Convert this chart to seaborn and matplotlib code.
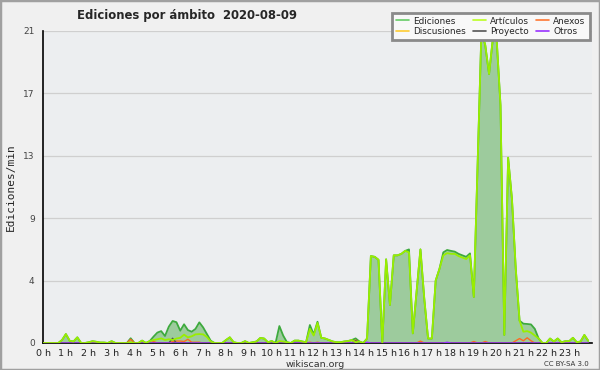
import numpy as np
import pandas as pd
import matplotlib
matplotlib.use("Agg")
import matplotlib.pyplot as plt
import seaborn as sns
from matplotlib.patches import Rectangle
from matplotlib.lines import Line2D

# ---- data: edits per minute, 10-minute bins (144 per day) ----
ediciones = [
    0, 0, 0, 0, 0, 0.2, 0.6, 0.15, 0.1, 0.38, 0, 0,
    0.05, 0.12, 0.08, 0.03, 0.03, 0, 0.12, 0, 0, 0, 0, 0.32,
    0, 0, 0.16, 0, 0.13, 0.43, 0.7, 0.8, 0.47, 1.1, 1.48, 1.4,
    0.83, 1.26, 0.87, 0.76, 0.95, 1.39, 1.05, 0.6, 0.15, 0, 0, 0,
    0.2, 0.38, 0.05, 0, 0, 0.12, 0, 0.05, 0.1, 0.34, 0.3, 0.05,
    0.13, 0, 1.14, 0.5, 0.05, 0, 0.16, 0.16, 0.1, 0.05, 1.21, 0.58,
    1.43, 0.35, 0.3, 0.2, 0.1, 0.05, 0.05, 0.1, 0.13, 0.2, 0.31, 0.1,
    0, 0.3, 5.85, 5.8, 5.6, 0, 5.63, 2.56, 5.9, 5.9, 6.0, 6.2,
    6.3, 0.65, 3.5, 6.3, 3.0, 0.3, 0.3, 4.2, 5.0, 6.1, 6.26, 6.2,
    6.15, 6.0, 5.9, 5.8, 6.03, 3.1, 12.0, 21.0, 20.05, 18.1, 20.5, 20.4,
    16.0, 0.54, 12.47, 9.7, 5.0, 1.5, 1.3, 1.28, 1.25, 0.95, 0.3, 0,
    0, 0.3, 0.1, 0.3, 0.05, 0.12, 0.12, 0.35, 0.05, 0.1, 0.54, 0.15,
]

articulos = list(ediciones)
for i, v in {23: 0.05, 29: 0.2, 30: 0.25, 31: 0.31, 32: 0.2, 33: 0.25, 34: 0.2,
             35: 0.3, 36: 0.35, 37: 0.56, 38: 0.38, 39: 0.45, 40: 0.58, 41: 0.6,
             42: 0.58, 43: 0.4, 44: 0.1, 62: 0.13, 63: 0.1, 70: 0.95, 71: 0.5,
             72: 1.35, 82: 0.05, 96: 6.1, 105: 5.9, 106: 6.05, 107: 6.0, 108: 6.0,
             109: 5.85, 110: 5.75, 111: 5.65, 112: 5.9, 126: 0.76, 127: 0.8,
             128: 0.7, 129: 0.5}.items():
    articulos[i] = v

anexos = [0.0] * 144
for i, v in {23: 0.25, 29: 0.1, 34: 0.1, 35: 0.13, 36: 0.13, 37: 0.1, 38: 0.25,
             39: 0.05, 40: 0.05, 41: 0.05, 70: 0.05, 72: 0.05, 82: 0.2, 99: 0.13,
             113: 0.1, 116: 0.1, 124: 0.15, 125: 0.3, 126: 0.15, 127: 0.35,
             128: 0.15}.items():
    anexos[i] = v

discusiones = [0.0] * 144
proyecto = [0.0] * 144
proyecto[34] = 0.32
proyecto[82] = 0.15
otros = [0.0] * 144
otros[85] = 0.05
otros[106] = 0.05

hours = [i / 6 for i in range(144)]
ytick_pos = [0, 4.2, 8.4, 12.6, 16.8, 21]
ytick_labels = ["0", "4", "9", "13", "17", "21"]
xtick_labels = [f"{h} h" for h in range(24)]

series_names = ["Ediciones", "Artículos", "Anexos", "Discusiones", "Proyecto", "Otros"]
line_colors = {"Ediciones": "#3daa3d", "Artículos": "#99ee00", "Anexos": "#ff6a22",
               "Discusiones": "#ffcc22", "Proyecto": "#555555", "Otros": "#9933ff"}
legend_colors = {"Ediciones": "#66cc66", "Artículos": "#bbff22", "Anexos": "#ff7733",
                 "Discusiones": "#ffcc33", "Proyecto": "#555555", "Otros": "#9933ff"}

df = pd.DataFrame({"hora": hours, "Ediciones": ediciones, "Artículos": articulos,
                   "Anexos": anexos, "Discusiones": discusiones,
                   "Proyecto": proyecto, "Otros": otros})
long = df.melt(id_vars="hora", var_name="serie", value_name="valor")

sns.set_style("white")
plt.rcParams["font.family"] = ["DejaVu Sans"]

fig = plt.figure(figsize=(6, 3.7), dpi=100, facecolor="#f0f0f0")
ax = fig.add_axes([43 / 600, 1 - 343 / 370, 549 / 600, 312 / 370])
ax.set_facecolor("#eceef0")

ax.fill_between(df["hora"], 0, df["Ediciones"], color="#9dcb9d", lw=0, zorder=1)
order = ["Ediciones", "Anexos", "Discusiones", "Proyecto", "Otros", "Artículos"]
for name in order:
    sub = long[long["serie"] == name]
    sns.lineplot(data=sub, x="hora", y="valor", ax=ax, color=line_colors[name],
                 lw=1.3 if name in ("Ediciones", "Artículos") else 1.0,
                 zorder=3 if name == "Ediciones" else 4, legend=False)

ax.set_xlim(0, 24)
ax.set_ylim(0, 21)
ax.set_xticks(range(24))
ax.set_xticklabels(xtick_labels, fontsize=6.8, color="#222222")
ax.set_xticks([i / 6 for i in range(145)], minor=True)
ax.set_yticks(ytick_pos)
ax.set_yticklabels(ytick_labels, fontsize=6.5, color="#444444")
ax.set_yticks([k * 1.05 for k in range(21)], minor=True)
ax.tick_params(axis="x", which="major", length=4, width=0.8, pad=0, direction="out")
ax.tick_params(axis="x", which="minor", length=4, width=0.8, direction="out")
ax.tick_params(axis="y", which="major", length=5, width=0.8, pad=1, direction="out")
ax.tick_params(axis="y", which="minor", length=3, width=0.8, direction="out")
ax.grid(axis="y", which="major", color="#cfcfcf", lw=0.9)
ax.set_axisbelow(True)
for s in ("top", "right"):
    ax.spines[s].set_visible(False)
for s in ("left", "bottom"):
    ax.spines[s].set_color("black")
    ax.spines[s].set_linewidth(1.2)
ax.set_xlabel("")
ax.set_ylabel("Ediciones/min", fontsize=8, family="DejaVu Sans Mono", labelpad=5)

fig.text(0.312, 0.958, "Ediciones por ámbito  2020-08-09", ha="center", va="center",
         fontsize=8.4, fontweight="bold")
fig.text(0.525, 0.016, "wikiscan.org", ha="center", va="center", fontsize=6.8, color="#333333")
fig.text(0.982, 0.016, "CC BY-SA 3.0", ha="right", va="center", fontsize=5, color="#333333")

col_order = ["Ediciones", "Discusiones", "Artículos", "Proyecto", "Anexos", "Otros"]
handles = [Line2D([0], [0], color=legend_colors[n], lw=1.2) for n in col_order]
leg = fig.legend(handles, col_order, ncol=3, loc="upper right",
                 bbox_to_anchor=(0.99, 0.978), fontsize=6.4, frameon=True,
                 handlelength=1.5, handletextpad=0.5, columnspacing=0.7,
                 labelspacing=0.2, borderpad=0.45, fancybox=False)
leg.get_frame().set_edgecolor("#8a8a8a")
leg.get_frame().set_linewidth(2)
leg.get_frame().set_facecolor("#f8f8f8")
leg.get_frame().set_alpha(1)
leg.set_zorder(10)

fig.patches.append(Rectangle((0, 0), 1, 1, transform=fig.transFigure, fill=False,
                             edgecolor="#a0a0a0", lw=2.5))

fig.savefig("out.png", dpi=100, facecolor=fig.get_facecolor())
